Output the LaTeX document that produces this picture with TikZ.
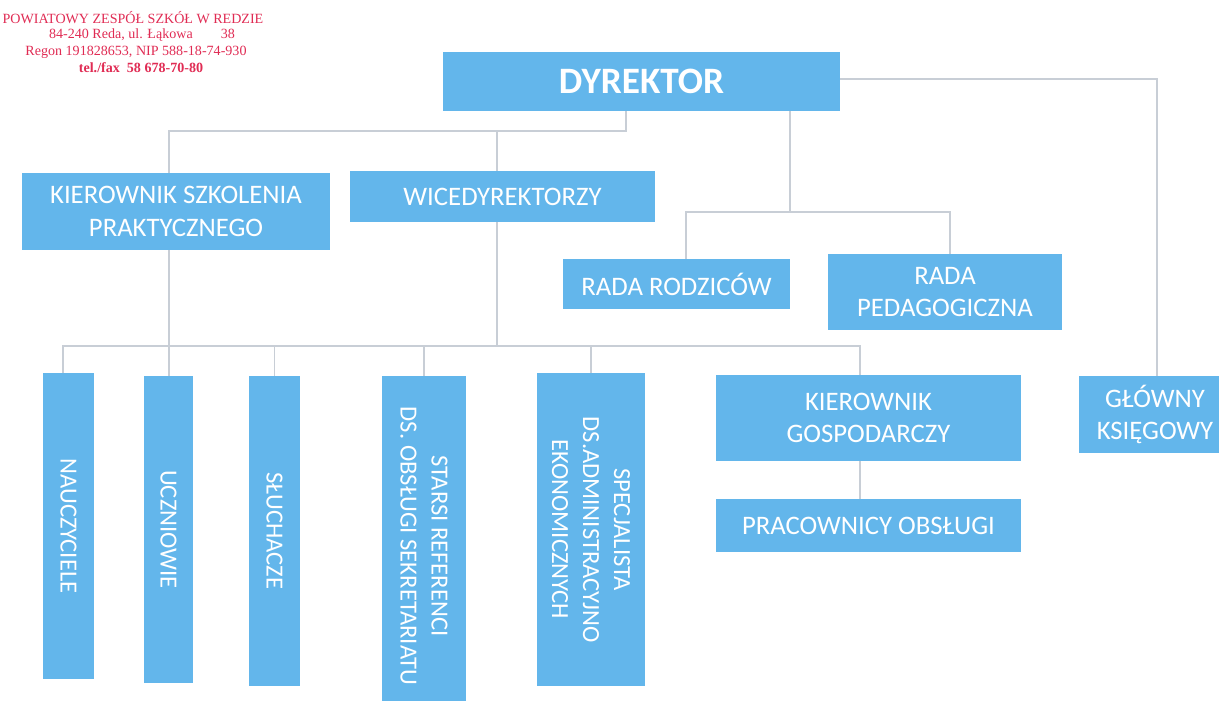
\documentclass[tikz,border=0pt]{standalone}
\usepackage{fontspec}
\setmainfont{Carlito}
\newfontfamily\stampfont{Liberation Serif}
\definecolor{boxblue}{RGB}{99, 182, 235}
\definecolor{linkgray}{RGB}{200, 206, 214}
\definecolor{stampred}{RGB}{224, 44, 84}
\usepackage{tikz}
\usetikzlibrary{positioning}

\begin{document}
\begin{tikzpicture}[x=0.025cm, y=-0.025cm,
  box/.style={fill=boxblue, text=white, inner sep=2pt, align=center, font=\fontsize{19}{23}\selectfont},
  vbox/.style={box, rotate=-90, font=\fontsize{17.5}{22}\selectfont},
  link/.style={draw=linkgray, line width=1pt},
  stampline/.style={text=stampred, inner sep=0pt, font=\stampfont\fontsize{10}{11}\selectfont}]
  \path[use as bounding box, clip] (0,0) rectangle (1219,700);

  % school stamp
  \node[stampline] (stamp1) at (133,18) {POWIATOWY ZESPÓŁ SZKÓŁ W REDZIE};
  \node[stampline] (stamp2) at (142,35) {84-240 Reda, ul. Łąkowa\hspace{2em}38};
  \node[stampline] (stamp3) at (136,52) {Regon 191828653, NIP 588-18-74-930};
  \node[stampline, font=\stampfont\bfseries\fontsize{10}{11}\selectfont] (stamp4) at (141,68) {tel./fax\ \ 58 678-70-80};

  % top level
  \node[box, font=\fontsize{26.5}{30}\selectfont\bfseries, minimum width=9.925cm, minimum height=1.475cm] (dyr) at (641.5,81.5) {DYREKTOR};
  \node[box, minimum width=7.7cm, minimum height=1.925cm] (ksp) at (176,211.5) {KIEROWNIK SZKOLENIA\\PRAKTYCZNEGO};
  \node[box, minimum width=7.625cm, minimum height=1.275cm] (wic) at (502.5,196.5) {WICEDYREKTORZY};
  \node[box, minimum width=5.675cm, minimum height=1.25cm] (rr) at (676.5,284) {RADA RODZICÓW};
  \node[box, minimum width=5.85cm, minimum height=1.9cm] (rp) at (945,292) {RADA\\PEDAGOGICZNA};
  \node[box, minimum width=3.8cm, minimum height=1.925cm] (gk) at (1155,414.5) {GŁÓWNY\\KSIĘGOWY};
  \node[box, minimum width=7.625cm, minimum height=2.15cm] (kg) at (868.5,418) {KIEROWNIK\\GOSPODARCZY};
  \node[box, minimum width=7.625cm, minimum height=1.325cm] (pr) at (868.5,525.5) {PRACOWNICY OBSŁUGI};

  % vertical boxes
  \node[vbox, minimum width=7.65cm, minimum height=1.275cm] (nau) at (68.5,526) {NAUCZYCIELE};
  \node[vbox, minimum width=7.675cm, minimum height=1.225cm] (ucz) at (168.5,529.5) {UCZNIOWIE};
  \node[vbox, minimum width=7.75cm, minimum height=1.275cm] (sl) at (274.5,531) {SŁUCHACZE};
  \node[vbox, minimum width=8.5cm, minimum height=2.1cm] (st) at (424,546) {STARSI REFERENCI\\DS. OBSŁUGI SEKRETARIATU};
  \node[vbox, minimum width=7.825cm, minimum height=2.7cm] (sp) at (591,529.5) {SPECJALISTA\\DS.ADMINISTRACYJNO\\EKONOMICZNYCH};

  % joints
  \coordinate (ja) at (626,131);
  \coordinate (jk) at (169,131);
  \coordinate (jw) at (497,131);
  \coordinate (jr) at (790,212);
  \coordinate (jrl) at (686,212);
  \coordinate (jrr) at (950,212);
  \coordinate (jg) at (1157,79);
  \coordinate (bl) at (63,346);
  \coordinate (bw) at (497,346);
  \coordinate (br) at (860,346);

  % links
  \draw[link] (dyr.south -| ja) |- (jk) -- (ksp.north -| jk);
  \draw[link] (jw) -- (wic.north -| jw);
  \draw[link] (dyr.south -| jr) -- (jr);
  \draw[link] (rr.north -| jrl) |- (jrr) -- (rp.north -| jrr);
  \draw[link] (dyr.east |- jg) -| (gk.north -| jg);
  \draw[link] (ksp.south -| jk) -- (ucz.west -| jk);
  \draw[link] (wic.south -| jw) -- (bw);
  \draw[link] (nau.west -| bl) |- (br) -- (kg.north -| br);
  \foreach \n in {sl, st, sp}
    \draw[link] (\n.west) -- (\n.west |- bl);
  \draw[link] (kg.south -| br) -- (pr.north -| br);
\end{tikzpicture}
\end{document}
